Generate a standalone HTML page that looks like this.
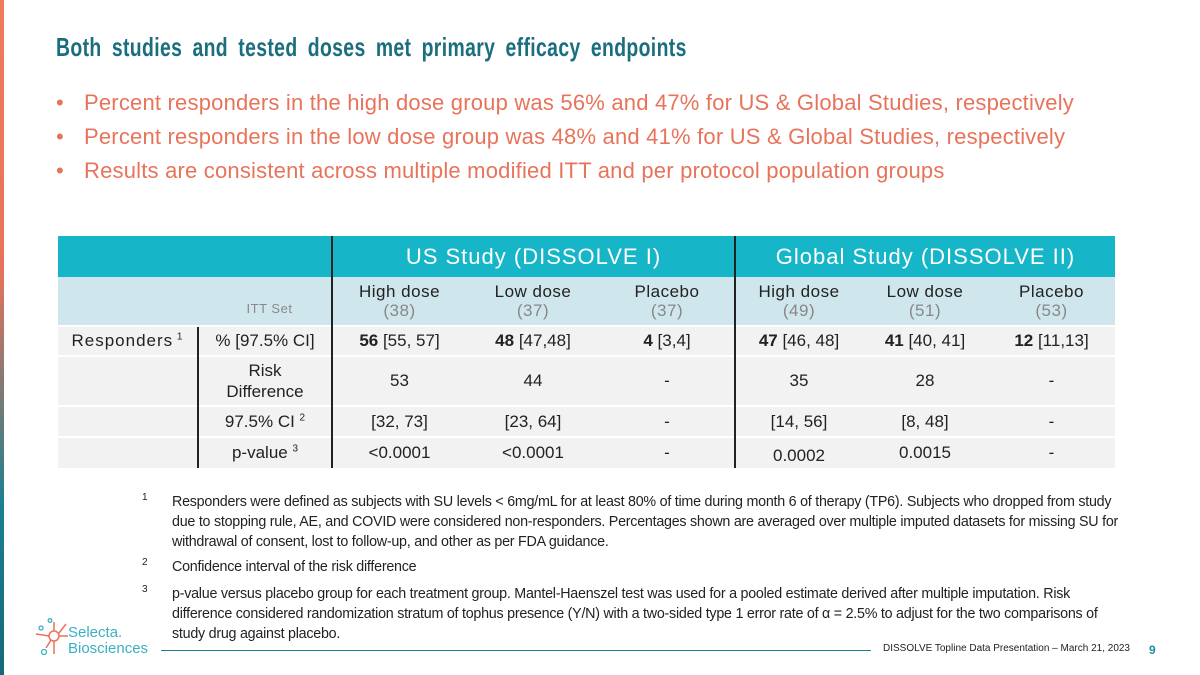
<!DOCTYPE html>
<html><head><meta charset="utf-8"><style>
*{margin:0;padding:0;box-sizing:border-box}
body{width:1200px;height:675px;background:#fff;position:relative;overflow:hidden;font-family:"Liberation Sans",sans-serif}
.abs{position:absolute}
.bar{left:0;top:0;width:4px;height:675px;background:linear-gradient(#f07a5c,#e8735a 40%,#1b7f8f 75%,#156a7a)}
.title{left:56px;top:32px;font-size:26px;font-weight:bold;color:#1a6e7e;transform:scaleX(0.745);transform-origin:left;letter-spacing:0.5px;word-spacing:6px;white-space:nowrap}
.bul{left:56px;font-size:22px;color:#e8735a;letter-spacing:0.2px;white-space:nowrap}
.bul span{display:inline-block;width:28px}
table{position:absolute;left:58px;top:236px;border-collapse:collapse;font-size:17px;color:#222}
td{text-align:center;padding:0}
.h1 td{background:#17b5c8;color:#fff;font-size:22px;height:41px;letter-spacing:1px}
.h2 td{background:#cfe6ed;height:49px;font-size:17px;line-height:19px;letter-spacing:0.5px}
.g{color:#888}
.r td{background:#f2f2f2;border-top:2px solid #fff}
.vl{border-left:2px solid #222}
.fn{left:142px;width:990px;font-size:14.3px;color:#222;letter-spacing:-0.25px}
.fn sup{position:absolute;left:0;top:0;font-size:10px}
.fn div{margin-left:30px;line-height:20px}
</style></head><body>
<div class="abs bar"></div>
<div class="abs title">Both studies and tested doses met primary efficacy endpoints</div>
<div class="abs bul" style="top:90px"><span>•</span>Percent responders in the high dose group was 56% and 47% for US &amp; Global Studies, respectively</div>
<div class="abs bul" style="top:124px"><span>•</span>Percent responders in the low dose group was 48% and 41% for US &amp; Global Studies, respectively</div>
<div class="abs bul" style="top:158px"><span>•</span>Results are consistent across multiple modified ITT and per protocol population groups</div>

<table>
<colgroup><col style="width:140px"><col style="width:134px"><col style="width:134px"><col style="width:134px"><col style="width:135px"><col style="width:127px"><col style="width:126px"><col style="width:127px"></colgroup>
<tr class="h1"><td colspan="2"></td><td colspan="3" class="vl">US Study (DISSOLVE I)</td><td colspan="3" class="vl">Global Study (DISSOLVE II)</td></tr>
<tr class="h2" style="border-bottom:2px solid #222"><td colspan="2" class="g" style="font-size:13px;padding:14px 0 0 150px">ITT Set</td>
<td class="vl">High dose<br><span class="g">(38)</span></td><td>Low dose<br><span class="g">(37)</span></td><td>Placebo<br><span class="g">(37)</span></td>
<td class="vl">High dose<br><span class="g">(49)</span></td><td>Low dose<br><span class="g">(51)</span></td><td>Placebo<br><span class="g">(53)</span></td></tr>
<tr class="r" style="height:30px"><td style="letter-spacing:1px">Responders<sup style="font-size:10px"> 1</sup></td><td class="vl">% [97.5% CI]</td><td class="vl"><b>56</b> [55, 57]</td><td><b>48</b> [47,48]</td><td><b>4</b> [3,4]</td><td class="vl"><b>47</b> [46, 48]</td><td><b>41</b> [40, 41]</td><td><b>12</b> [11,13]</td></tr>
<tr class="r" style="height:50px"><td></td><td class="vl" style="line-height:21px">Risk<br>Difference</td><td class="vl">53</td><td>44</td><td>-</td><td class="vl">35</td><td>28</td><td>-</td></tr>
<tr class="r" style="height:31px"><td></td><td class="vl">97.5% CI <sup style="font-size:10px">2</sup></td><td class="vl">[32, 73]</td><td>[23, 64]</td><td>-</td><td class="vl">[14, 56]</td><td>[8, 48]</td><td>-</td></tr>
<tr class="r" style="height:31px"><td></td><td class="vl">p-value <sup style="font-size:10px">3</sup></td><td class="vl">&lt;0.0001</td><td>&lt;0.0001</td><td>-</td><td class="vl" style="padding-top:6px">0.0002</td><td>0.0015</td><td>-</td></tr>
</table>

<div class="abs fn" style="top:492px"><sup>1</sup><div>Responders were defined as subjects with SU levels &lt; 6mg/mL for at least 80% of time during month 6 of therapy (TP6). Subjects who dropped from study due to stopping rule, AE, and COVID were considered non-responders. Percentages shown are averaged over multiple imputed datasets for missing SU for withdrawal of consent, lost to follow-up, and other as per FDA guidance.</div></div>
<div class="abs fn" style="top:557px"><sup>2</sup><div>Confidence interval of the risk difference</div></div>
<div class="abs fn" style="top:584px"><sup>3</sup><div>p-value versus placebo group for each treatment group. Mantel-Haenszel test was used for a pooled estimate derived after multiple imputation. Risk difference considered randomization stratum of tophus presence (Y/N) with a two-sided type 1 error rate of α = 2.5% to adjust for the two comparisons of study drug against placebo.</div></div>

<svg class="abs" style="left:34px;top:618px" width="36" height="40">
<g stroke="#e8735a" stroke-width="1.5" fill="none"><circle cx="20" cy="18" r="5"/><line x1="20" y1="13" x2="20" y2="4"/><line x1="25" y1="15" x2="32" y2="6"/><line x1="25" y1="18" x2="34" y2="18"/><line x1="15" y1="18" x2="2" y2="16"/><line x1="17" y1="22" x2="12" y2="30"/><line x1="20" y1="23" x2="20" y2="36"/></g>
<g stroke="#3ab0c4" stroke-width="1.3" fill="none"><circle cx="16" cy="2.5" r="1.8"/><circle cx="7" cy="10" r="2"/><circle cx="10" cy="34" r="2.5"/></g></svg>
<div class="abs" style="left:68px;top:625px;font-size:15px;line-height:16px;color:#3ab0c4">Selecta.<br>Biosciences</div>
<div class="abs" style="left:161px;top:650px;width:710px;height:1px;background:#1b7f8f"></div>
<div class="abs" style="left:883px;top:643px;font-size:10px;color:#222">DISSOLVE Topline Data  Presentation – March 21, 2023</div>
<div class="abs" style="left:1149px;top:643px;font-size:12px;font-weight:bold;color:#1b8fa3">9</div>
</body></html>
